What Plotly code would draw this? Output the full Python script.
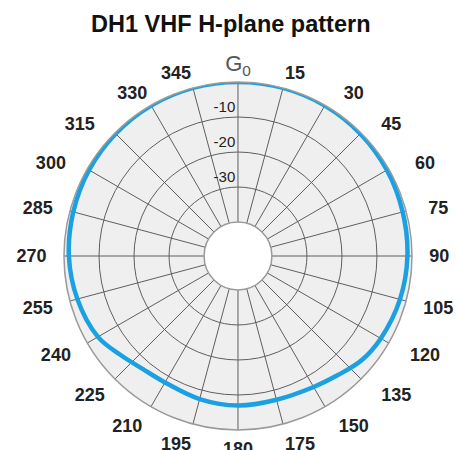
import plotly.graph_objects as go

# Pattern data (angle in degrees, gain in dB relative to G0)
angles = [0, 15, 30, 45, 60, 75, 90, 105, 120, 130, 140, 150, 165, 180,
          195, 210, 220, 230, 240, 255, 270, 285, 300, 315, 330, 345, 360]
gain_db = [0.0, 0.0, -0.1, -0.3, -0.6, -1.0, -1.3, -1.8, -2.6, -3.5, -5.3, -6.5, -7.2, -7.0,
           -7.4, -8.0, -7.5, -5.8, -3.5, -2.2, -1.4, -1.0, -0.6, -0.3, -0.1, 0.0, 0.0]

tick_angles = list(range(0, 360, 15))
tick_labels = ["G<sub>0</sub>", "15", "30", "45", "60", "75", "90", "105", "120", "135",
               "150", "175", "180", "195", "210", "225", "240", "255", "270", "285",
               "300", "315", "330", "345"]
radial_ticks = [-30, -20, -10]
radial_labels = ["-30", "-20", "-10"]

# extra label standoff (in non-breaking spaces) for the side labels
label_pad = [0, 0, 3, 3, 4, 3, 2, 2, 3, 3, 2, 0,
             0, 0, 1, 1, 2, 2, 2, 2, 3, 3, 0, 0]

NB = "\u00a0"
ticktext = []
for ang, t, p in zip(tick_angles, tick_labels, label_pad):
    if t.startswith("G"):
        ticktext.append("<span style='font-size:22px;color:#555555'>" + t + "</span>")
    elif 0 < ang < 180:
        ticktext.append(NB * p + "<b>" + t + "</b>")
    else:
        ticktext.append("<b>" + t + "</b>" + NB * p)

fig = go.Figure()
fig.add_trace(go.Scatterpolar(
    r=gain_db, theta=angles, mode="lines",
    line=dict(color="#1ba1e2", width=4.5, shape="spline", smoothing=1.0),
    hoverinfo="skip", showlegend=False,
))

fig.update_layout(
    width=457, height=450,
    margin=dict(l=0, r=0, t=0, b=0),
    paper_bgcolor="white",
    font=dict(family="Liberation Sans, Arial, sans-serif"),
    title=dict(text="<b>DH1 VHF H-plane pattern</b>", x=0.505, xanchor="center",
               y=0.948, yanchor="middle",
               font=dict(size=23.5, color="#111111", family="Liberation Sans, Arial, sans-serif")),
    polar=dict(
        domain=dict(x=[0.1400, 0.9015], y=[0.0444, 0.8178]),
        bgcolor="#efefef",
        hole=0.195,
        angularaxis=dict(
            rotation=90, direction="clockwise",
            tickmode="array", tickvals=tick_angles, ticktext=ticktext,
            tickfont=dict(size=18, color="#222222", family="Liberation Sans, Arial, sans-serif"),
            ticks="outside", ticklen=3, tickcolor="rgba(0,0,0,0)",
            showgrid=True, gridcolor="#5f5f5f", gridwidth=1,
            showline=True, linecolor="#9a9a9a", linewidth=1.5,
        ),
        radialaxis=dict(
            range=[-40, 0], angle=90, side="counterclockwise",
            tickmode="array", tickvals=radial_ticks,
            ticktext=[lbl + "<br>" + NB for lbl in radial_labels],
            tickfont=dict(size=15, color="#222222", family="Liberation Sans, Arial, sans-serif"),
            tickangle=90,
            showgrid=True, gridcolor="#5f5f5f", gridwidth=1,
            showline=False, ticks="",
        ),
    ),
)

fig.write_html("out.html", config={"displayModeBar": False},
               post_script="document.body.style.margin='0';")
